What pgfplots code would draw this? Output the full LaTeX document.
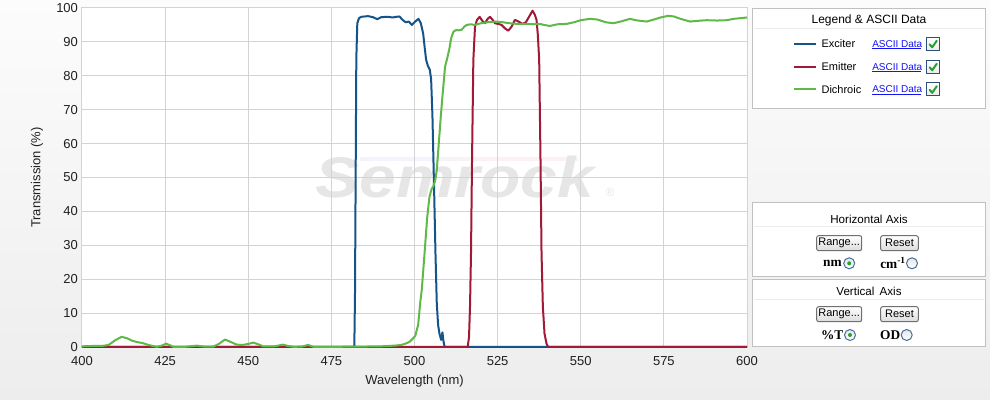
\documentclass[border=0pt]{standalone}
\usepackage{fontspec}
\setmainfont{Liberation Sans}
\newfontfamily\serifb{Liberation Serif}
\usepackage{pgfplots}
\pgfplotsset{compat=1.18}
\definecolor{exciter}{RGB}{20,84,138}
\definecolor{emitter}{RGB}{160,25,55}
\definecolor{dichroic}{RGB}{95,185,70}
\definecolor{gridgray}{RGB}{211,211,211}
\definecolor{panelborder}{RGB}{192,192,192}
\definecolor{sepline}{RGB}{236,236,236}
\definecolor{wmark}{RGB}{230,230,230}
\definecolor{linkblue}{RGB}{20,20,240}
\definecolor{boxblue}{RGB}{44,80,120}
\definecolor{checkgreen}{RGB}{40,160,50}
\definecolor{radioblue}{RGB}{70,110,160}
\definecolor{btnborder}{RGB}{112,112,112}
\begin{document}
\begin{tikzpicture}
\path[use as bounding box] (0,0) rectangle (742.5pt,300pt);
\shade[top color={rgb,255:red,252;green,252;blue,252}, bottom color={rgb,255:red,237;green,237;blue,237}] (0,0) rectangle (742.5pt,300pt);
\begin{scope}[x=0.75pt,y=-0.75pt,yshift=300pt]
  % plot area background and watermark
  \fill[white] (82,8) rectangle (747,347);
  \shade[left color=blue!5, middle color=yellow!14, right color=red!6] (360,157.5) rectangle (578,161);
  \node[anchor=base, inner sep=0, text=wmark, xscale=1.15, font=\fontsize{43}{43}\selectfont\bfseries\itshape] at (455,198) {Semrock};
  \node[anchor=base, inner sep=0, text=wmark, font=\fontsize{9}{9}\selectfont] at (610,197) {®};
  % legend panel
  \draw[panelborder, line width=0.75pt, fill=white] (752.5,8.5) rectangle (985.5,108.5);
  \node[font=\fontsize{9}{10}\selectfont, inner sep=0] at (869,20.5) {Legend \& ASCII Data};
  \draw[sepline, line width=0.75pt] (754,28.5) -- (984,28.5);
  \foreach \yy/\nm/\col in {44/Exciter/exciter, 67/Emitter/emitter, 89.5/Dichroic/dichroic}{
    \draw[\col, line width=1.5pt] (794,\yy) -- (816,\yy);
    \node[anchor=west, inner sep=0, font=\fontsize{8.25}{9}\selectfont] at (821.3,\yy) {\nm};
    \node[anchor=west, inner sep=0, text=linkblue, font=\fontsize{7.5}{8}\selectfont] at (872,\yy) {ASCII Data};
    \draw[linkblue, line width=0.6pt] (872,\yy+4.8) -- (920.7,\yy+4.8);
    \draw[boxblue, line width=0.75pt, top color=white, bottom color=black!8] (926.7,\yy-6.5) rectangle (939.7,\yy+6.5);
    \draw[checkgreen, line width=1.5pt, line cap=round, line join=round] (929.6,\yy+0.3) -- (932.2,\yy+3.3) -- (936.8,\yy-3.3);
  }
  % horizontal axis panel
  \draw[panelborder, line width=0.75pt, fill=white] (752.5,202.5) rectangle (985.5,276.5);
  \node[font=\fontsize{8.7}{10}\selectfont, inner sep=0] at (869,219) {Horizontal Axis};
  \draw[sepline, line width=0.75pt] (754,226.3) -- (984,226.3);
  % vertical axis panel
  \draw[panelborder, line width=0.75pt, fill=white] (752.5,279.5) rectangle (985.5,346.5);
  \node[font=\fontsize{8.7}{10}\selectfont, inner sep=0] at (869,291) {Vertical \kern1.5pt Axis};
  \draw[sepline, line width=0.75pt] (754,299.3) -- (984,299.3);
  % buttons
  \foreach \yb in {235.7, 306.7}{
    \draw[btnborder, line width=0.75pt, rounded corners=1.5pt, top color=white, bottom color=black!14] (816.7,\yb) rectangle (861.7,\yb+15);
    \node[font=\fontsize{8.25}{9}\selectfont, inner sep=0] at (839.2,\yb+7.5) {Range...};
    \draw[btnborder, line width=0.75pt, rounded corners=1.5pt, top color=white, bottom color=black!14] (880.7,\yb) rectangle (918.3,\yb+15);
    \node[font=\fontsize{8.25}{9}\selectfont, inner sep=0] at (899.5,\yb+7.5) {Reset};
  }
  % radio options
  \node[anchor=east, inner sep=0, font=\fontsize{10}{11}\selectfont\serifb\bfseries] at (842,263.3) {nm};
  \draw[radioblue, line width=0.75pt, top color=black!10, bottom color=white] (849.2,263.3) circle (5.5);
  \fill[checkgreen] (849.2,263.3) circle (2);
  \node[anchor=east, inner sep=0, font=\fontsize{10}{11}\selectfont\serifb\bfseries] at (906,263.3) {cm\textsuperscript{-1}};
  \draw[radioblue, line width=0.75pt, top color=black!10, bottom color=white] (912,263.3) circle (5.5);
  \node[anchor=east, inner sep=0, font=\fontsize{10}{11}\selectfont\serifb\bfseries] at (843.5,335) {\%T};
  \draw[radioblue, line width=0.75pt, top color=black!10, bottom color=white] (850,335) circle (5.5);
  \fill[checkgreen] (850,335) circle (2);
  \node[anchor=east, inner sep=0, font=\fontsize{10}{11}\selectfont\serifb\bfseries] at (900.5,335) {OD};
  \draw[radioblue, line width=0.75pt, top color=black!10, bottom color=white] (906.7,335) circle (5.5);
\end{scope}
\begin{axis}[
  at={(61.5pt,39.75pt)}, anchor=south west,
  scale only axis, width=498.75pt, height=254.25pt,
  xmin=400, xmax=600, ymin=0, ymax=100,
  xtick={400,425,...,600}, ytick={0,10,...,100},
  grid=major, grid style={draw=gridgray, line width=0.75pt},
  axis line style={draw=gridgray, line width=0.75pt},
  major tick length=0pt,
  clip=false,
  ticklabel style={font=\fontsize{9.75}{10}\selectfont, text=black!88},
  /pgf/number format/assume math mode=true,
  xticklabel style={yshift=-3.5pt},
  yticklabel style={xshift=0.5pt},
  xlabel={Wavelength (nm)},
  ylabel={Transmission (\%)},
  label style={font=\fontsize{9.75}{10}\selectfont, text=black!88},
  xlabel style={at={(axis description cs:0.5,-0.1003)}, anchor=center},
  ylabel style={at={(axis description cs:-0.0677,0.5)}, anchor=center},
  every axis plot/.append style={line width=1.5pt, line join=round},
]
\addplot[exciter] coordinates {
(400,0) (481.9,0) (482.1,15) (482.3,50) (482.5,85) (482.8,95.5) (483.3,97.0) (484,97.4) (486,97.6) (487.5,97.3) (488.8,96.7) (490,97.3) (492,97.4) (493.5,97.2) (494.5,97.4) (495.5,97.5) (496.3,96.6) (497.3,95.8) (498.3,96.0) (499.2,95.0) (500.2,96.0) (501.2,96.8) (501.9,95.5) (502.6,92.5) (503.1,88) (503.5,84.7) (504.0,83) (504.6,81.8) (505.0,79) (505.4,68) (505.7,55) (505.9,46.3) (506.3,28) (506.7,12.9) (507.1,6.5) (507.5,4.0) (508.0,2.1) (508.4,4.3) (508.7,1.8) (509.0,0.3) (509.2,0) (600,0)
};
\addplot[emitter] coordinates {
(400,0) (516.0,0) (516.4,3) (516.7,12) (517.0,28) (517.3,55) (517.7,84.7) (518.2,94.5) (518.8,96.5) (519.6,97.4) (520.4,96.2) (521.2,95.5) (522.0,96.8) (522.7,97.4) (523.5,96.5) (524.2,95.5) (525.2,95.3) (526.2,95.0) (527.2,94.0) (528.2,93.3) (529.2,94.5) (530.2,96.5) (531.3,96.0) (532.5,95.3) (533.5,95.8) (534.5,97.5) (535.5,99.2) (536.2,98) (536.7,96.5) (537.1,92) (537.5,84.7) (537.9,55) (538.2,28) (538.6,12) (539.1,4) (539.7,1) (540.2,0) (600,0)
};
\addplot[dichroic] coordinates {
(400,0.2) (403,0.3) (406,0.3) (408,0.6) (410,2.0) (411.9,3.0) (413.5,2.6) (415,1.9) (416.4,1.5) (418.4,1.1) (420,0.6) (422.5,0.05) (424,0.4) (425.3,1.0) (426.5,0.5) (427.5,0.05) (431,0.05) (434.5,0.4) (437,0.1) (439.5,0.1) (441.3,1.0) (443,2.2) (444.5,1.6) (446.5,0.7) (448.3,0.6) (450,0.9) (451.5,1.3) (453,0.8) (454.5,0.2) (458,0.2) (460.4,0.7) (462,0.3) (463.6,0.05) (466,0.1) (468,0.6) (469.6,0.05) (475,0.05) (482,0.1) (490,0.2) (494,0.4) (496,0.6) (497.6,1.1) (498.6,1.6) (499.6,2.6) (500.2,3.2) (501.1,6.5) (501.7,12.9) (502.2,17) (503.2,30) (503.8,38) (504.5,44.3) (505.1,46.5) (505.7,47.5) (506.2,49) (506.7,52.2) (507.3,60) (507.9,67.9) (508.5,75) (509.2,82.7) (509.8,85) (510.5,88) (511.0,91) (511.7,93.0) (512.5,93.5) (513.3,93.4) (514.2,93.6) (515.0,94.5) (515.7,95.0) (517,95.2) (518,95.0) (520,95.5) (522,95.8) (524.7,96.0) (526.5,95.8) (528.7,95.5) (531,95.3) (533.7,95.3) (536,95.2) (537.7,95.3) (539,95.0) (540.7,94.7) (543,95.2) (545.7,95.3) (548,95.8) (550,96.4) (552.8,96.8) (555,96.6) (557.5,95.8) (559.8,95.5) (562,96.0) (564.8,96.8) (566.5,96.4) (568,96.2) (569.8,96.0) (572,96.6) (574,97.2) (576.3,97.7) (578,97.5) (580,96.8) (582.9,96.0) (585,96.2) (587.9,96.4) (591,96.3) (593.9,96.4) (596,96.8) (598,97.0) (600,97.2)
};
\end{axis}
\end{tikzpicture}
\end{document}
